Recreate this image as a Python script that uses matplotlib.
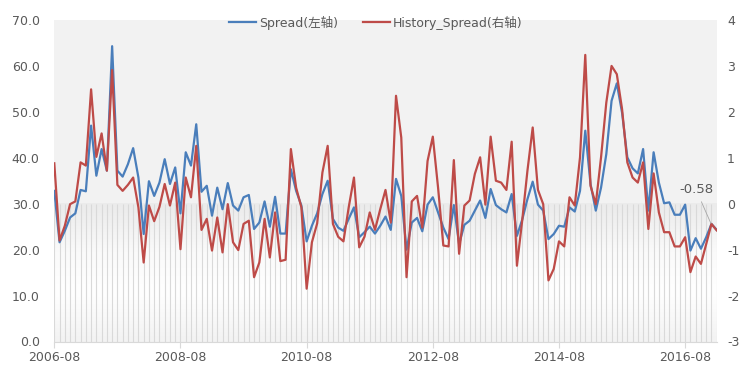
# coding: utf-8
#	Spread vs History_Spread, dual axis line chart
#--------------------------------

import numpy as np
import matplotlib.pyplot as plt
from matplotlib.colors import LinearSegmentedColormap

plt.rcParams['font.family'] = ['DejaVu Sans', 'Noto Sans CJK SC']

# --- Data (monthly, 2006-08 .. 2017-02)
spread = [32.8, 21.6, 24.1, 27.0, 27.9, 33.0, 32.7, 47.0, 36.1, 41.9, 37.2, 64.3, 37.2, 35.9, 38.6, 42.1, 35.7, 23.4, 34.9, 31.7, 34.6, 39.7,
	34.3, 37.9, 27.9, 41.2, 38.3, 47.3, 32.6, 33.9, 27.4, 33.5, 28.8, 34.5, 29.6, 28.5, 31.4, 31.9, 24.5, 25.9, 30.5, 25.0, 31.5,
	23.5, 23.5, 37.5, 32.8, 29.6, 21.8, 25.2, 27.9, 32.1, 35.0, 26.7, 24.8, 24.1, 26.7, 29.2, 22.7, 23.8, 25.0, 23.5, 25.2, 27.2,
	24.3, 35.4, 31.7, 20.0, 25.9, 26.9, 24.0, 29.8, 31.4, 28.1, 24.8, 22.3, 29.7, 21.2, 25.4, 26.3, 28.5, 30.7, 26.9, 33.2, 29.7,
	28.8, 28.1, 32.1, 23.0, 26.5, 31.0, 34.8, 29.8, 28.5, 22.3, 23.4, 25.2, 25.0, 29.2, 28.3, 32.8, 45.9, 34.3, 28.5, 33.5, 40.8,
	52.4, 56.2, 49.8, 40.1, 37.7, 36.6, 41.9, 28.5, 41.2, 34.6, 30.1, 30.3, 27.6, 27.6, 29.8, 19.8, 22.5, 20.2, 22.7, 25.6, 24.3]

history = [0.88, -0.80, -0.48, -0.01, 0.05, 0.90, 0.83, 2.49, 1.02, 1.53, 0.72, 2.91, 0.41, 0.28, 0.41, 0.57, -0.08, -1.28, -0.04, -0.38, -0.07, 0.43,
	-0.04, 0.46, -0.99, 0.57, 0.14, 1.26, -0.57, -0.33, -1.02, -0.30, -1.06, -0.01, -0.84, -1.01, -0.44, -0.37, -1.60, -1.28, -0.33, -1.17, -0.19,
	-1.25, -1.22, 1.19, 0.35, -0.08, -1.85, -0.84, -0.43, 0.68, 1.26, -0.44, -0.72, -0.82, -0.08, 0.57, -0.95, -0.72, -0.19, -0.57, -0.12, 0.30,
	-0.41, 2.35, 1.44, -1.60, 0.05, 0.17, -0.52, 0.93, 1.46, 0.35, -0.91, -0.93, 0.95, -1.09, -0.04, 0.07, 0.65, 1.01, -0.02, 1.46, 0.50,
	0.46, 0.30, 1.35, -1.35, -0.37, 0.72, 1.66, 0.30, -0.01, -1.67, -1.42, -0.82, -0.93, 0.14, -0.04, 1.01, 3.24, 0.39, -0.01, 1.01, 2.20,
	3.00, 2.82, 2.06, 0.90, 0.57, 0.46, 0.90, -0.55, 0.66, -0.19, -0.62, -0.62, -0.93, -0.93, -0.73, -1.49, -1.15, -1.31, -0.88, -0.44, -0.58]

tick_pos = [0, 24, 48, 72, 96, 120]
tick_labels = ['2006-08', '2008-08', '2010-08', '2012-08', '2014-08', '2016-08']
right_ticks = [-3, -2, -1, 0, 1, 2, 3, 4]
last_label = '-0.58'

months = np.arange(len(spread))
n_last = months[-1]
grey = '#595959'

# --- Figure
fig = plt.figure(figsize=(7.44, 3.72), dpi=100)
ax = fig.add_axes([54.3 / 744, 1 - 341.5 / 372, (716.7 - 54.3) / 744, (341.5 - 20) / 372])
ax.set_facecolor('#f2f2f2')

# lower shaded band with monthly drop lines
bg = LinearSegmentedColormap.from_list('bg', [(0, '#f3f3f3'), (0.35, '#ffffff'), (0.65, '#fafafa'), (1, '#ebebeb')])
ax.imshow(np.linspace(0, 1, 200).reshape(-1, 1), extent=(0, n_last, 0, 30), origin='lower',
	cmap=bg, aspect='auto', zorder=0)
ax.vlines(months, 0, 30, color='#d9d9d9', lw=0.8, zorder=1)

l1, = ax.plot(months, spread, color='#4a7ebb', lw=1.6, zorder=3, label='Spread(左轴)')
ax.set_xlim(0, n_last)
ax.set_ylim(0, 70)
ax.set_yticks(np.arange(0, 71, 10))
ax.set_yticklabels(['%.1f' % v for v in np.arange(0, 71, 10)])
ax.set_xticks(tick_pos)
ax.set_xticklabels(tick_labels)

ax2 = ax.twinx()
l2, = ax2.plot(months, history, color='#be4b48', lw=1.6, label='History_Spread(右轴)')
ax2.set_ylim(-3, 4)
ax2.set_yticks(right_ticks)
ax2.set_yticklabels([str(t) for t in right_ticks])
ax2.set_xlim(0, n_last)

for s in ['top', 'left', 'right']:
	ax.spines[s].set_visible(False)
for s in ax2.spines.values():
	s.set_visible(False)
ax.spines['bottom'].set_color('#d9d9d9')

ax.tick_params(axis='y', length=0, pad=10.5, labelsize=9, labelcolor=grey)
ax.tick_params(axis='x', length=4, color='#d9d9d9', pad=3, labelsize=9, labelcolor=grey)
ax2.tick_params(axis='y', length=0, pad=7.5, labelsize=9, labelcolor=grey)

# - end label
ax2.annotate(last_label, xy=(124.9, history[-1] + 0.15), xytext=(122.1, 0.30),
	ha='center', va='center', fontsize=9.5, color=grey,
	arrowprops=dict(arrowstyle='-', color='#a6a6a6', lw=0.6, shrinkB=0))

fig.legend([l1, l2], [l1.get_label(), l2.get_label()], loc='center', bbox_to_anchor=(0.505, 0.939),
	ncol=2, frameon=False, fontsize=9, handlelength=2.2, handletextpad=0.2, columnspacing=2.0,
	labelcolor=grey)

fig.savefig('out.png', dpi=100)
